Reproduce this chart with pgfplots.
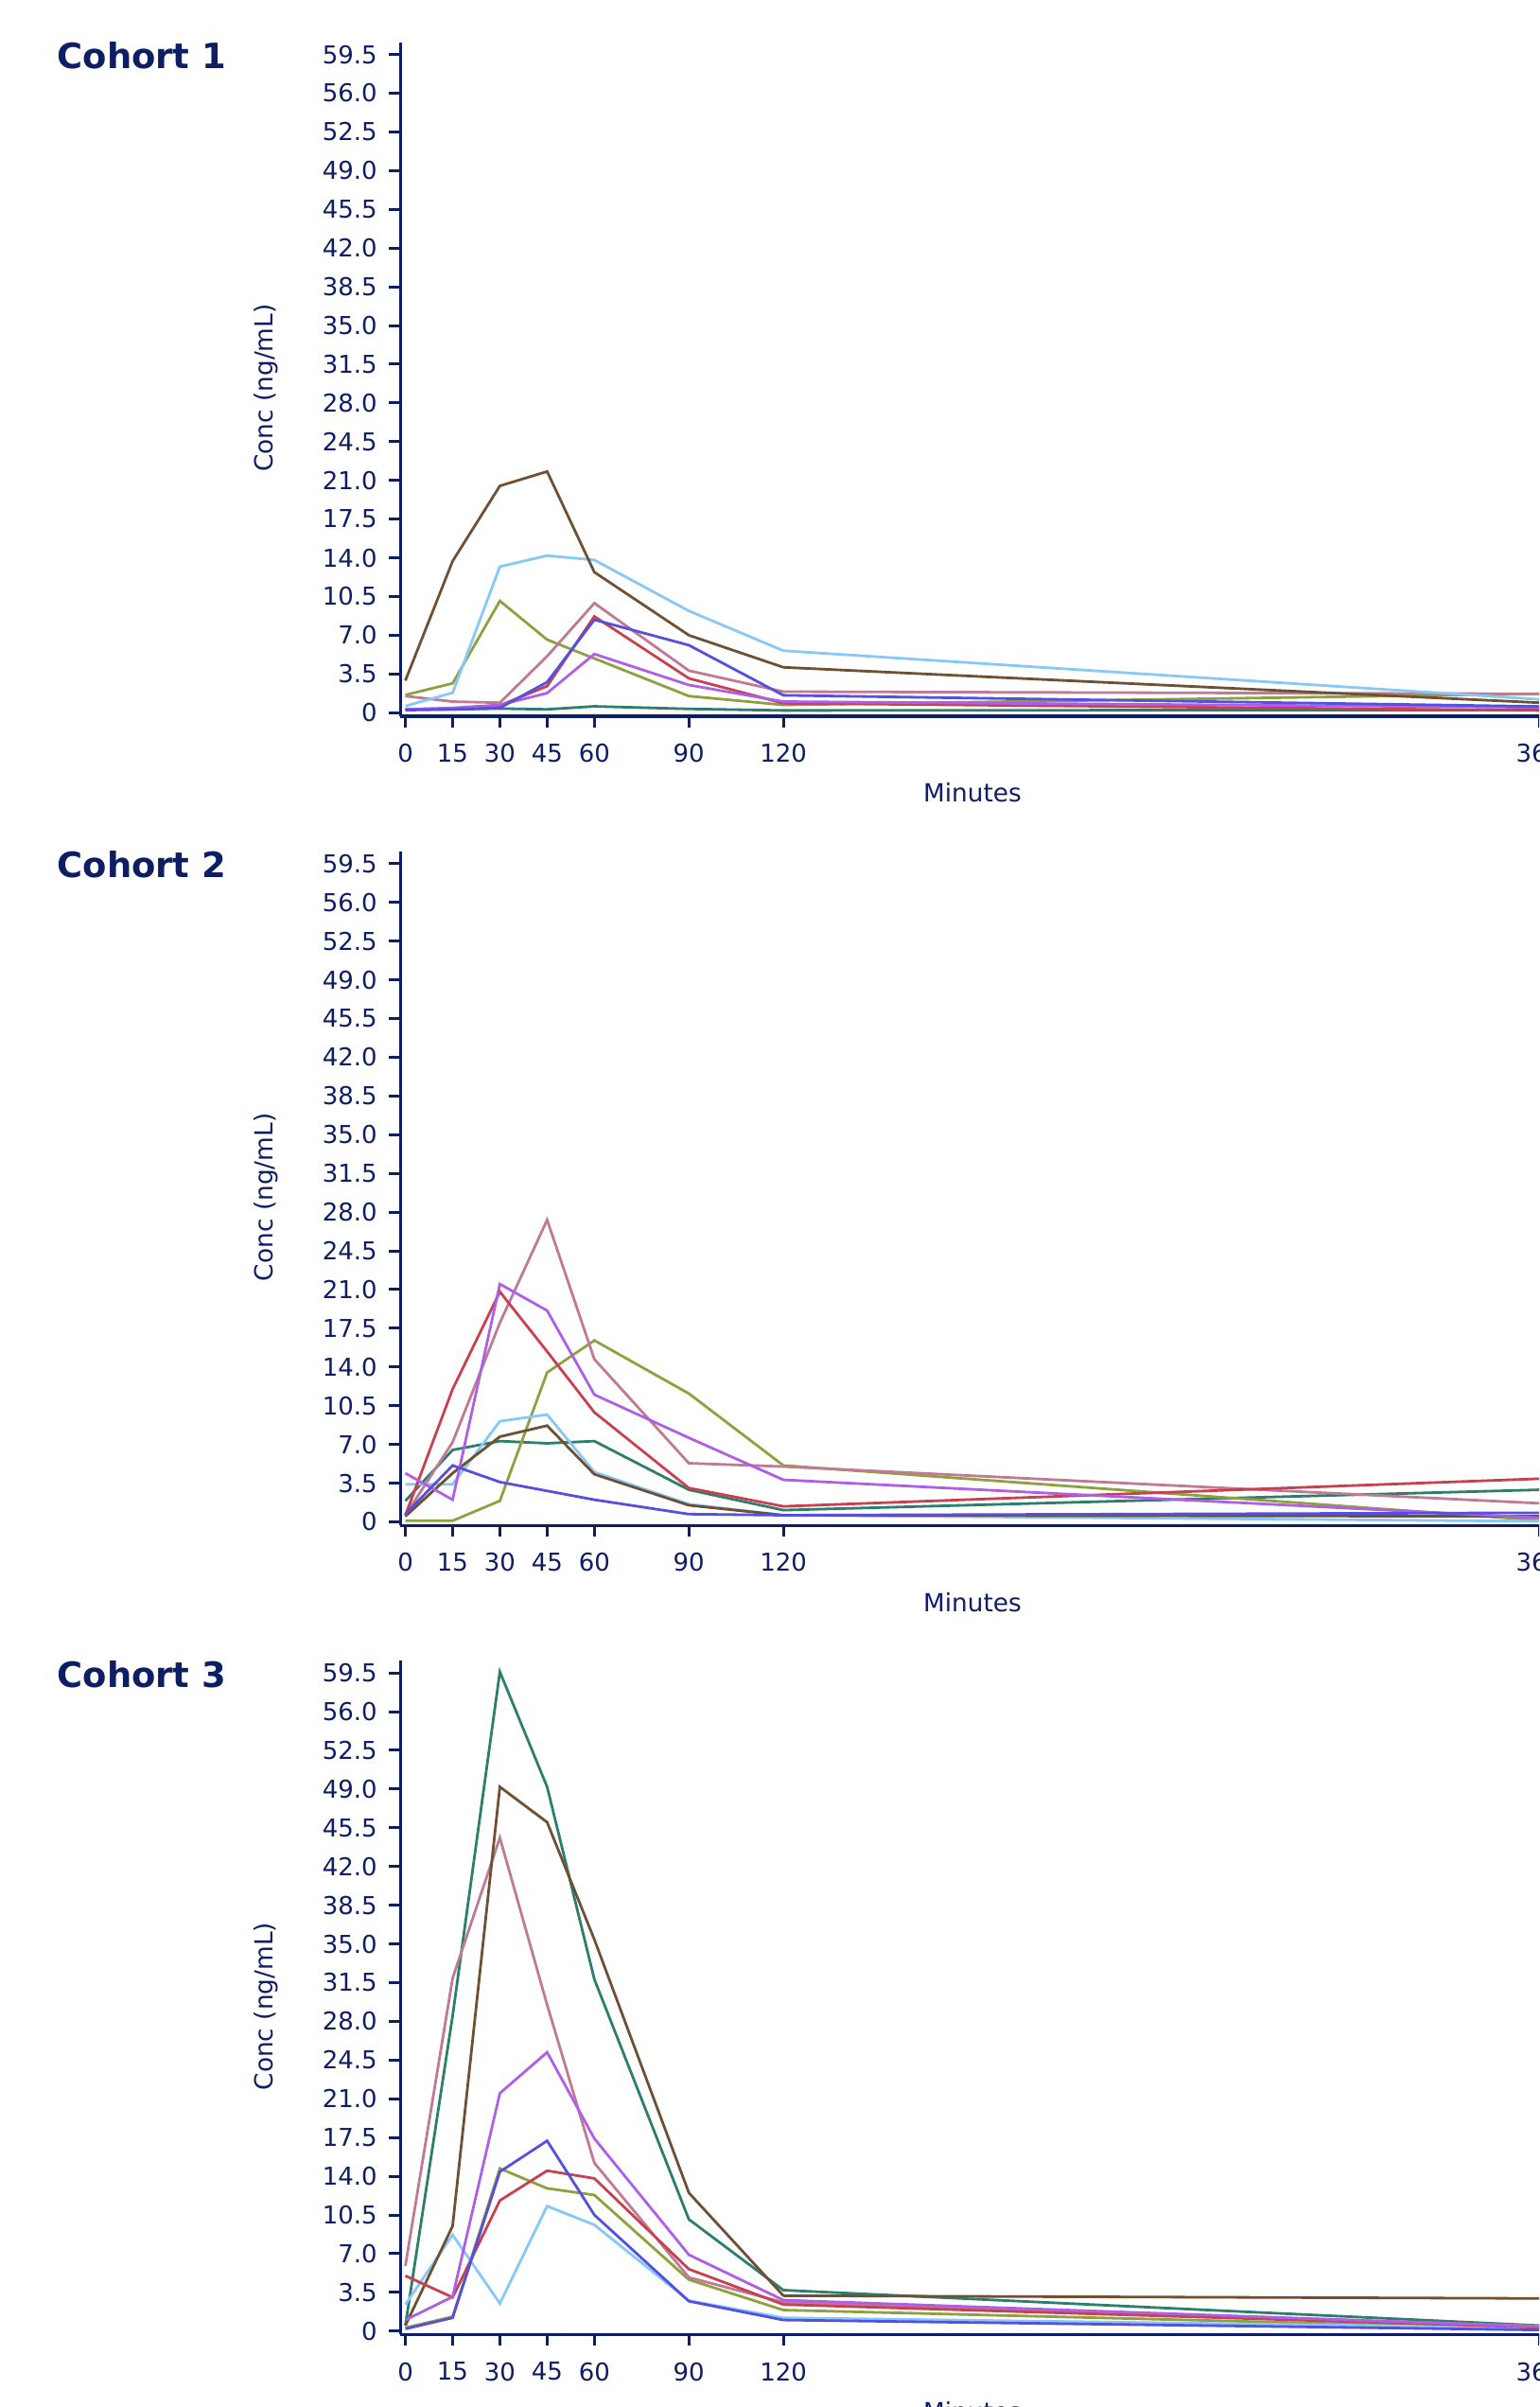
\documentclass[border=0pt]{standalone}
\usepackage{fontspec}
\setmainfont{DejaVu Sans}
\usepackage{pgfplots}
\pgfplotsset{compat=1.18}
\definecolor{navy}{HTML}{0E1E64}
\definecolor{cBrown}{HTML}{6F5034}
\definecolor{cLBlue}{HTML}{87C8F8}
\definecolor{cOlive}{HTML}{8FA040}
\definecolor{cMauve}{HTML}{C07A93}
\definecolor{cRed}{HTML}{C84150}
\definecolor{cBlue}{HTML}{5550E0}
\definecolor{cPurple}{HTML}{AF5FE6}
\definecolor{cTeal}{HTML}{2E7E6E}
\newcommand{\tickfont}{\fontsize{7.4pt}{8.9pt}\selectfont}
\newcommand{\labfont}{\fontsize{7.5pt}{9pt}\selectfont}
\newcommand{\titfont}{\fontsize{10.5pt}{12pt}\selectfont\bfseries}
\pgfplotsset{
  cohort/.style={
    scale only axis, width=123.74mm, height=71.22mm,
    xmin=-1.6, xmax=370, ymin=-0.32, ymax=60.6,
    axis x line*=bottom, axis y line*=left,
    axis line style={draw=navy, line width=0.33mm, -},
    xtick={0,15,30,45,60,90,120,360},
    xticklabels={0,15,30,45,60,90,120,360},
    ytick={0,3.5,7,10.5,14,17.5,21,24.5,28,31.5,35,38.5,42,45.5,49,52.5,56,59.5},
    yticklabels={0,3.5,7.0,10.5,14.0,17.5,21.0,24.5,28.0,31.5,35.0,38.5,42.0,45.5,49.0,52.5,56.0,59.5},
    tick align=outside,
    major tick length=1.2mm,
    every tick/.style={draw=navy, line width=0.3mm},
    tick label style={font=\tickfont, text=navy},
    xticklabel style={yshift=-0.5mm},
    xlabel={Minutes}, ylabel={Conc (ng/mL)},
    every axis x label/.style={at={(axis description cs:0.4887,0)}, yshift=-8.1mm, anchor=center, font=\labfont, text=navy},
    every axis y label/.style={at={(axis description cs:0,0.487)}, xshift=-14.2mm, rotate=90, anchor=center, font=\labfont, text=navy},
    every axis plot/.append style={line width=0.28mm, mark=none},
  }
}
\begin{document}
\begin{tikzpicture}
\useasboundingbox (0,0) rectangle (162.7mm,254.4mm);
\begin{scope}
\clip (0,0) rectangle (162.7mm,254.4mm);
% ---------- Cohort 1 ----------
\node[anchor=base west, font=\titfont, text=navy, inner sep=0pt] at (6.0mm,247.13mm) {Cohort 1};
\begin{axis}[cohort, at={(42.32mm,178.70mm)}, anchor=south west]
\addplot[cTeal] coordinates {(0,0.3)(15,0.3)(30,0.37)(45,0.3)(60,0.57)(90,0.34)(120,0.2)(360,0.25)};
\addplot[cOlive] coordinates {(0,1.6)(15,2.65)(30,10.1)(45,6.6)(60,4.9)(90,1.5)(120,0.7)(360,1.7)};
\addplot[cMauve] coordinates {(0,1.5)(15,1.0)(30,0.9)(45,5.1)(60,9.9)(90,3.8)(120,1.9)(360,1.7)};
\addplot[cLBlue] coordinates {(0,0.6)(15,1.8)(30,13.2)(45,14.2)(60,13.8)(90,9.2)(120,5.6)(360,1.2)};
\addplot[cBrown] coordinates {(0,2.9)(15,13.7)(30,20.5)(45,21.8)(60,12.7)(90,7.0)(120,4.1)(360,0.9)};
\addplot[cRed] coordinates {(0,0.3)(15,0.37)(30,0.65)(45,2.4)(60,8.7)(90,3.1)(120,0.85)(360,0.2)};
\addplot[cPurple] coordinates {(0,0.3)(15,0.43)(30,0.7)(45,1.77)(60,5.3)(90,2.5)(120,1.0)(360,0.48)};
\addplot[cBlue] coordinates {(0,0.23)(15,0.3)(30,0.43)(45,2.76)(60,8.4)(90,6.1)(120,1.57)(360,0.56)};
\end{axis}
% ---------- Cohort 2 ----------
\node[anchor=base west, font=\titfont, text=navy, inner sep=0pt] at (6.0mm,161.605mm) {Cohort 2};
\begin{axis}[cohort, at={(42.32mm,93.175mm)}, anchor=south west]
\addplot[cTeal] coordinates {(0,1.9)(15,6.5)(30,7.3)(45,7.1)(60,7.3)(90,2.9)(120,1.06)(360,2.9)};
\addplot[cOlive] coordinates {(0,0.1)(15,0.1)(30,1.9)(45,13.5)(60,16.4)(90,11.6)(120,5.1)(360,0.14)};
\addplot[cMauve] coordinates {(0,0.6)(15,7.2)(30,18.0)(45,27.3)(60,14.7)(90,5.3)(120,5.0)(360,1.68)};
\addplot[cLBlue] coordinates {(0,3.4)(15,3.4)(30,9.1)(45,9.7)(60,4.5)(90,1.6)(120,0.6)(360,0.05)};
\addplot[cBrown] coordinates {(0,0.5)(15,4.4)(30,7.7)(45,8.7)(60,4.3)(90,1.5)(120,0.6)(360,0.5)};
\addplot[cRed] coordinates {(0,0.6)(15,12.0)(30,20.8)(45,15.4)(60,9.9)(90,3.06)(120,1.4)(360,3.9)};
\addplot[cPurple] coordinates {(0,4.4)(15,2.0)(30,21.5)(45,19.1)(60,11.5)(90,7.6)(120,3.8)(360,0.37)};
\addplot[cBlue] coordinates {(0,0.7)(15,5.1)(30,3.6)(45,2.8)(60,2.0)(90,0.7)(120,0.6)(360,0.82)};
\end{axis}
% ---------- Cohort 3 ----------
\node[anchor=base west, font=\titfont, text=navy, inner sep=0pt] at (6.0mm,76.08mm) {Cohort 3};
\begin{axis}[cohort, at={(42.32mm,7.65mm)}, anchor=south west]
\addplot[cTeal] coordinates {(0,0.5)(15,28.5)(30,59.6)(45,49.2)(60,31.8)(90,10.1)(120,3.7)(360,0.5)};
\addplot[cOlive] coordinates {(0,0.3)(15,1.3)(30,14.7)(45,12.9)(60,12.3)(90,4.65)(120,1.9)(360,0.22)};
\addplot[cMauve] coordinates {(0,5.9)(15,31.9)(30,44.6)(45,29.5)(60,15.2)(90,4.85)(120,2.6)(360,0.45)};
\addplot[cLBlue] coordinates {(0,2.4)(15,8.7)(30,2.5)(45,11.3)(60,9.6)(90,2.75)(120,1.2)(360,0.3)};
\addplot[cBrown] coordinates {(0,0.5)(15,9.5)(30,49.2)(45,46.0)(60,35.4)(90,12.5)(120,3.2)(360,2.95)};
\addplot[cRed] coordinates {(0,5.0)(15,3.05)(30,11.8)(45,14.5)(60,13.8)(90,5.6)(120,2.4)(360,0.34)};
\addplot[cPurple] coordinates {(0,1.0)(15,3.1)(30,21.5)(45,25.2)(60,17.4)(90,6.9)(120,2.8)(360,0.4)};
\addplot[cBlue] coordinates {(0,0.2)(15,1.2)(30,14.4)(45,17.2)(60,10.5)(90,2.7)(120,1.0)(360,0.1)};
\end{axis}
\end{scope}
\end{tikzpicture}
\end{document}
